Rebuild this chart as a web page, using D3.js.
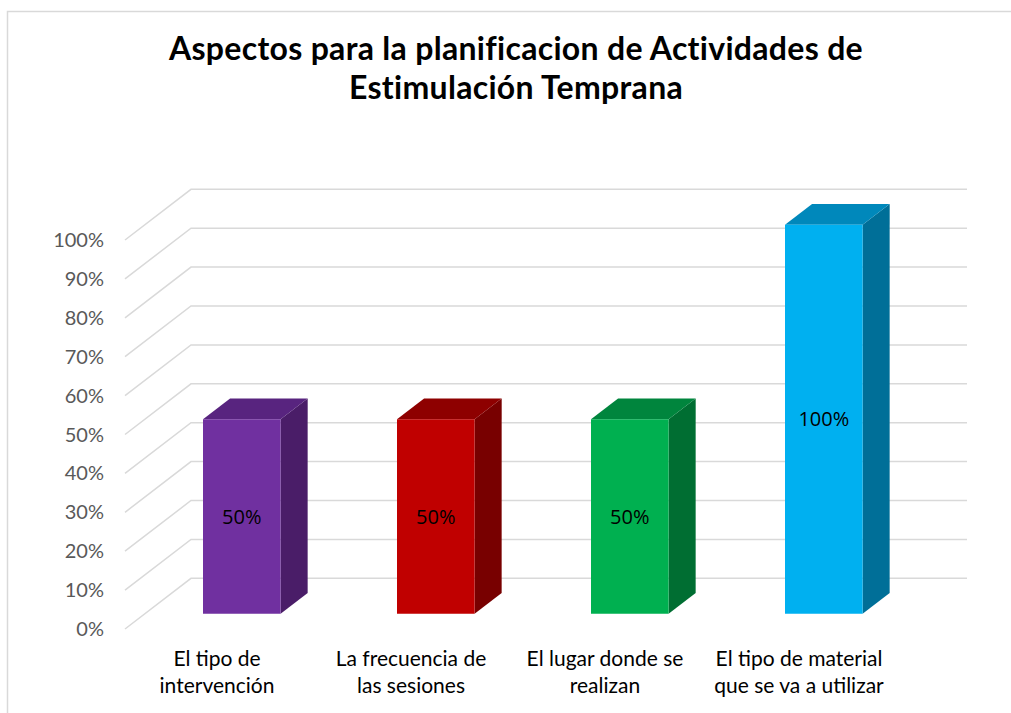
<!DOCTYPE html>
<html>
<head>
<meta charset="utf-8">
<script src="https://cdn.jsdelivr.net/npm/d3@7"></script>
<style>
  html, body { margin: 0; padding: 0; background: #fff; }
  svg { display: block; }
</style>
</head>
<body>
<svg id="chart" width="1011" height="713"></svg>
<script>
// ---- Data ----
const titleLines = ["Aspectos para la planificacion de Actividades de", "Estimulación Temprana"];
const categories = [
  ["El tipo de", "intervención"],
  ["La frecuencia de", "las sesiones"],
  ["El lugar donde se", "realizan"],
  ["El tipo de material", "que se va a utilizar"]
];
const values = [0.5, 0.5, 0.5, 1.0];
const valueLabels = ["50%", "50%", "50%", "100%"];
const tickValues = [0, 0.1, 0.2, 0.3, 0.4, 0.5, 0.6, 0.7, 0.8, 0.9, 1.0];
const frontColors = ["#7030A0", "#C00000", "#00B050", "#00B0F0"];
const topColors   = ["#58247F", "#8E0000", "#00853D", "#0088BB"];
const sideColors  = ["#4A1D68", "#780000", "#006E32", "#006F98"];

// ---- Layout ----
const svg = d3.select("#chart");
const depthDX = 66, depthDY = 50.7;     // projection offset from front plane to back wall
const zFront = 0.3, zBack = 0.71;       // bar depth extents
const catIdx = categories.map((d, i) => i);

const x = d3.scaleBand().domain(catIdx).range([125, 901]).paddingInner(0.6).paddingOuter(0.3);
const xCat = d3.scaleBand().domain(catIdx).range([125, 901]);
const y = d3.scaleLinear().domain([0, 1]).range([629, 240]);

const P = (px, v, z) => [px + z * depthDX, y(v) - z * depthDY];

// Frame
svg.append("rect").attr("x", 7.5).attr("y", 11.5).attr("width", 1100).attr("height", 800)
  .attr("fill", "none").attr("stroke", "#D9D9D9").attr("stroke-width", 1.5);

// Title
svg.append("text").attr("x", 516).attr("y", 60)
  .attr("text-anchor", "middle").attr("font-family", "Lato, sans-serif")
  .attr("font-weight", "bold").attr("font-size", 32).attr("fill", "#000")
  .attr("letter-spacing", 0.3)
  .selectAll("tspan").data(titleLines).join("tspan")
  .attr("x", 516).attr("dy", (d, i) => i === 0 ? 0 : 39).text(d => d);

// Gridlines: side wall diagonals + back wall
const grid = svg.append("g").attr("stroke", "#D9D9D9").attr("stroke-width", 1.5).attr("fill", "none");
tickValues.forEach(v => {
  const a = P(125, v, 0), b = P(125, v, 1), c = P(901, v, 1);
  grid.append("path").attr("d", d3.line()([a, b, c]));
});

// Y tick labels
svg.append("g").selectAll("text").data(tickValues).join("text")
  .attr("x", 104).attr("y", d => y(d)).attr("dy", "0.35em")
  .attr("text-anchor", "end").attr("font-family", "Lato, sans-serif")
  .attr("font-size", 20).attr("fill", "#595959")
  .text(d3.format(".0%"));

// Bars
const bars = svg.append("g");
values.forEach((v, i) => {
  const x0 = x(i), x1 = x(i) + x.bandwidth();
  const fBL = P(x0, 0, zFront), fBR = P(x1, 0, zFront), fTR = P(x1, v, zFront), fTL = P(x0, v, zFront);
  const bBR = P(x1, 0, zBack), bTR = P(x1, v, zBack), bTL = P(x0, v, zBack);
  const g = bars.append("g");
  g.append("path").attr("d", d3.line()([fBR, bBR, bTR, fTR]) + "Z").attr("fill", sideColors[i]);
  g.append("path").attr("d", d3.line()([fTL, fTR, bTR, bTL]) + "Z").attr("fill", topColors[i]);
  g.append("path").attr("d", d3.line()([fBL, fBR, fTR, fTL]) + "Z").attr("fill", frontColors[i]);
  const mid = P((x0 + x1) / 2, v / 2, zFront);
  g.append("text").attr("x", mid[0]).attr("y", mid[1]).attr("dy", "0.35em")
    .attr("text-anchor", "middle").attr("font-family", "'Open Sans', sans-serif")
    .attr("font-size", 20).attr("fill", "#000").text(valueLabels[i]);
});

// Category labels
const cat = svg.append("g");
categories.forEach((lines, i) => {
  const cx = xCat(i) + xCat.bandwidth() / 2 - 5;
  cat.append("text").attr("x", cx).attr("y", 666)
    .attr("text-anchor", "middle").attr("font-family", "Lato, sans-serif")
    .attr("font-size", 21).attr("fill", "#000")
    .selectAll("tspan").data(lines).join("tspan")
    .attr("x", cx).attr("dy", (d, j) => j === 0 ? 0 : 27).text(d => d);
});
</script>
</body>
</html>
